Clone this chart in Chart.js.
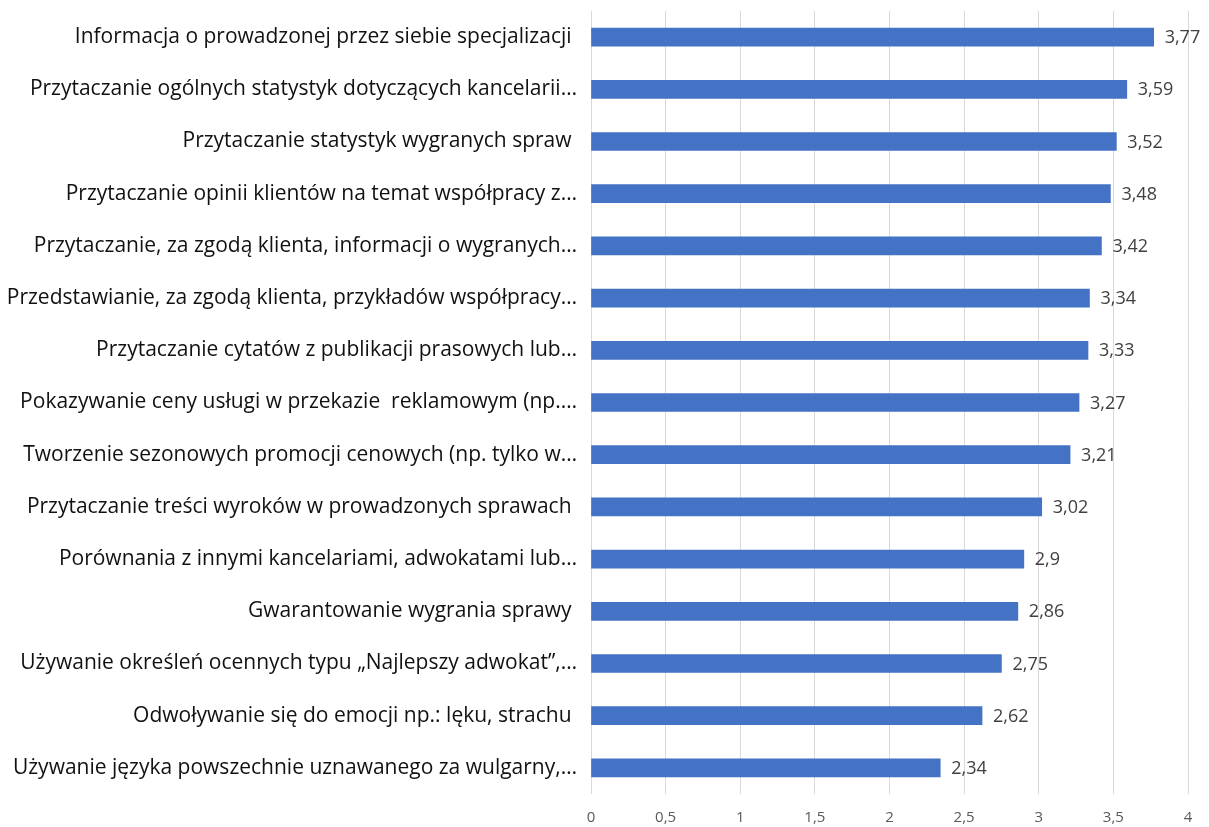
<!DOCTYPE html>
<html>
<head>
<meta charset="utf-8">
<script src="https://cdn.jsdelivr.net/npm/chart.js@4/dist/chart.umd.min.js"></script>
<style>
  html, body { margin: 0; padding: 0; background: #fff; }
  #wrap { width: 1209px; height: 827px; position: relative; }
</style>
</head>
<body>
<div id="wrap"><canvas id="chart"></canvas></div>
<script>
// Categories (top to bottom)
const categories = [
  "Informacja o prowadzonej przez siebie specjalizacji ",
  "Przytaczanie ogólnych statystyk dotyczących kancelarii…",
  "Przytaczanie statystyk wygranych spraw ",
  "Przytaczanie opinii klientów na temat współpracy z…",
  "Przytaczanie, za zgodą klienta, informacji o wygranych…",
  "Przedstawianie, za zgodą klienta, przykładów współpracy…",
  "Przytaczanie cytatów z publikacji prasowych lub…",
  "Pokazywanie ceny usługi w przekazie  reklamowym (np.…",
  "Tworzenie sezonowych promocji cenowych (np. tylko w…",
  "Przytaczanie treści wyroków w prowadzonych sprawach ",
  "Porównania z innymi kancelariami, adwokatami lub…",
  "Gwarantowanie wygrania sprawy ",
  "Używanie określeń ocennych typu „Najlepszy adwokat”,…",
  "Odwoływanie się do emocji np.: lęku, strachu ",
  "Używanie języka powszechnie uznawanego za wulgarny,…",
];

// Mean scores
const scores = [3.77, 3.59, 3.52, 3.48, 3.42, 3.34, 3.33, 3.27, 3.21, 3.02, 2.9, 2.86, 2.75, 2.62, 2.34];

// X axis range
const xMin = 0;
const xMax = 4;
const xStep = 0.5;

const fmt = (v) => String(v).replace(".", ",");

// Draw value labels at the end of each bar
const valueLabels = {
  id: "valueLabels",
  afterDatasetsDraw(chart) {
    const { ctx } = chart;
    const meta = chart.getDatasetMeta(0);
    ctx.save();
    ctx.font = "18px 'Open Sans', sans-serif";
    ctx.fillStyle = "#404040";
    ctx.textAlign = "left";
    ctx.textBaseline = "middle";
    meta.data.forEach((bar, i) => {
      ctx.fillText(fmt(scores[i]), bar.x + 11, bar.y + 1);
    });
    ctx.restore();
  },
};

new Chart(document.getElementById("chart"), {
  type: "bar",
  data: {
    labels: categories,
    datasets: [
      {
        data: scores,
        backgroundColor: "#4472c4",
        borderWidth: 0,
        barThickness: 18,
      },
    ],
  },
  options: {
    indexAxis: "y",
    responsive: true,
    maintainAspectRatio: false,
    animation: false,
    layout: { padding: { top: 11, right: 21, bottom: 0, left: 0 } },
    plugins: {
      legend: { display: false },
      tooltip: { enabled: false },
    },
    scales: {
      x: {
        min: xMin,
        max: xMax,
        grid: { color: "#d9d9d9", drawTicks: false },
        border: { display: false },
        afterFit(scale) {
          scale.height = 33;
          scale.paddingLeft = 0;
          scale.paddingRight = 0;
        },
        ticks: {
          stepSize: xStep,
          padding: 15,
          color: "#595959",
          font: { family: "'Open Sans', sans-serif", size: 15 },
          callback: (v) => fmt(v),
        },
      },
      y: {
        grid: { display: false },
        border: { display: false },
        afterFit(scale) {
          scale.width = 591;
          scale.paddingTop = 0;
          scale.paddingBottom = 0;
        },
        ticks: {
          autoSkip: false,
          padding: 6,
          color: "#111",
          font: { family: "'Open Sans', sans-serif", size: 21 },
        },
      },
    },
  },
  plugins: [valueLabels],
});
</script>
</body>
</html>
